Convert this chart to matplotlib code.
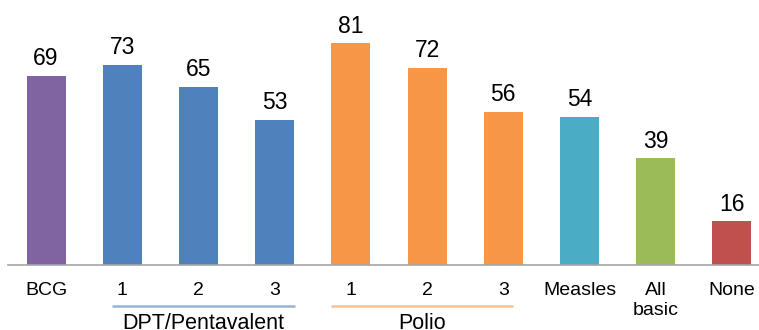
import matplotlib
matplotlib.use("Agg")
import matplotlib.pyplot as plt

plt.rcParams['font.family'] = ['Liberation Sans', 'DejaVu Sans']

categories = ["BCG", "1", "2", "3", "1", "2", "3", "Measles", "All\nbasic", "None"]
values = [69, 73, 65, 53, 81, 72, 56, 54, 39, 16]
colors = ["#8064A2", "#4F81BD", "#4F81BD", "#4F81BD", "#F79646", "#F79646",
          "#F79646", "#4BACC6", "#9BBB59", "#C0504D"]
groups = [("DPT/Pentavalent", 1, 3, "#95B3D7", -0.13, 0.26),
          ("Polio", 4, 6, "#FAC090", -0.26, 0.13)]

fig = plt.figure(figsize=(7.59, 3.30), dpi=100)
left = 8 / 759
slot = 76.2 / 759
ax = fig.add_axes([left, 65 / 330, slot * 10, 265 / 330])
x = list(range(len(values)))
bars = ax.bar(x, values, width=0.51, color=colors)
ax.set_xlim(-0.5, 9.5)
ax.set_ylim(0, 265 / 2.74)
for xi, v in zip(x, values):
    ax.annotate(str(v), (xi, v), xytext=(0, 4), textcoords="offset points",
                ha="center", va="bottom", fontsize=16.5)
for s in ["top", "right", "left"]:
    ax.spines[s].set_visible(False)
ax.spines["bottom"].set_color("#A6A6A6")
ax.spines["bottom"].set_linewidth(1.2)
ax.set_yticks([])
ax.set_xticks(x)
ax.set_xticklabels(categories, fontsize=14, va="top", linespacing=1.25)
ax.tick_params(axis="x", length=0, pad=12)

trans = ax.get_xaxis_transform()
for name, a, b, c, da, db in groups:
    y_line = -(306 - 265) / 265
    ax.plot([a + da, b + db], [y_line, y_line], transform=trans, color=c,
            lw=1.8, clip_on=False, solid_capstyle="butt")
    ax.text((a + b) / 2 + (da + db) / 2, -(313 - 265) / 265, name, transform=trans,
            ha="center", va="top", fontsize=15.5)

fig.savefig("out.png", dpi=100)
